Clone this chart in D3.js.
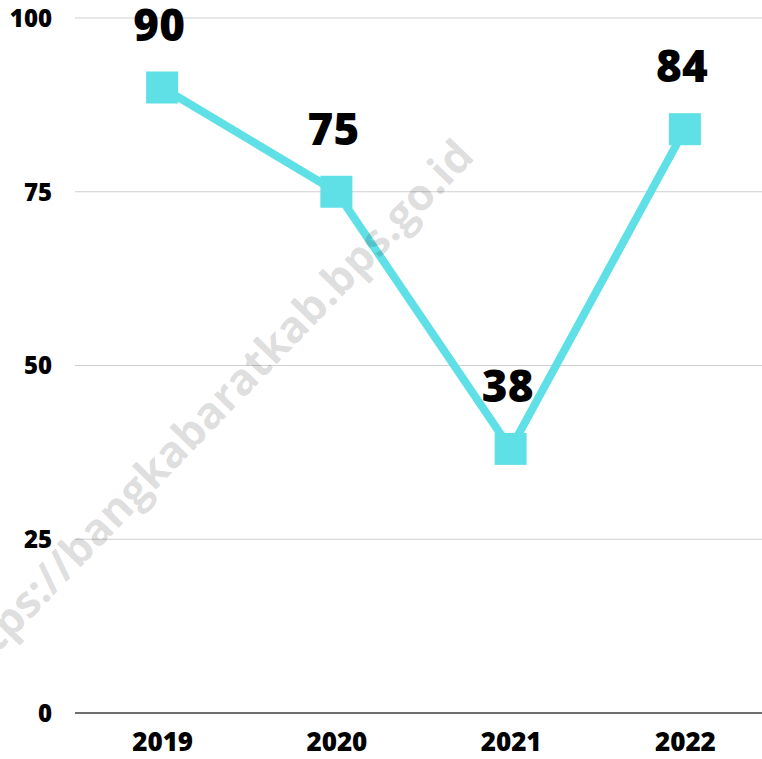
<!DOCTYPE html>
<html>
<head>
<meta charset="utf-8">
<script src="https://cdn.jsdelivr.net/npm/d3@7"></script>
<style>
  html, body { margin: 0; padding: 0; background: #fff; }
  svg { display: block; }
</style>
</head>
<body>
<svg id="chart" width="762" height="759"></svg>
<script>
const years = ["2019", "2020", "2021", "2022"];
const values = [90, 75, 38, 84];
const yTicks = [0, 25, 50, 75, 100];
const watermarkText = "https://bangkabaratkab.bps.go.id";

const W = 762, H = 759;
const svg = d3.select("#chart");
const font = "'Open Sans', 'Noto Sans', sans-serif";
const lineColor = "#5fe0e6";

const x = d3.scalePoint().domain(years).range([75, 772]).padding(0.5);
const y = d3.scaleLinear().domain([0, 100]).range([713, 18]);

// gridlines
const grid = svg.append("g");
grid.selectAll("line")
  .data(yTicks.filter(d => d !== 0))
  .join("line")
  .attr("x1", 75).attr("x2", W)
  .attr("y1", d => y(d)).attr("y2", d => y(d))
  .attr("stroke", "#cfcfcf").attr("stroke-width", 1.2);

// y axis labels
const yAxis = d3.axisLeft(y).tickValues(yTicks).tickSize(0).tickPadding(0).tickFormat(d3.format("d"));
const yg = svg.append("g").attr("transform", "translate(52,0)").call(yAxis);
yg.select(".domain").remove();
yg.selectAll("text")
  .attr("font-family", font).attr("font-weight", 800).attr("font-size", 24)
  .attr("fill", "#000").attr("dy", "0.35em");

// baseline
svg.append("line")
  .attr("x1", 75).attr("x2", W)
  .attr("y1", y(0)).attr("y2", y(0))
  .attr("stroke", "#6e6e6e").attr("stroke-width", 2.2);

// x axis labels
const xAxis = d3.axisBottom(x).tickSize(0).tickPadding(0);
const xg = svg.append("g").attr("transform", "translate(0,733)").call(xAxis);
xg.select(".domain").remove();
xg.selectAll("text")
  .attr("font-family", font).attr("font-weight", 800).attr("font-size", 26)
  .attr("fill", "#000").attr("dy", "0.7em");

// line
const line = d3.line().x((d, i) => x(years[i])).y(d => y(d));
svg.append("path")
  .datum(values)
  .attr("d", line)
  .attr("fill", "none")
  .attr("stroke", lineColor)
  .attr("stroke-width", 8)
  .attr("stroke-linejoin", "miter");

// markers
const S = 32;
svg.selectAll("rect.marker")
  .data(values)
  .join("rect")
  .attr("class", "marker")
  .attr("x", (d, i) => x(years[i]) - S / 2)
  .attr("y", d => y(d) - S / 2)
  .attr("width", S).attr("height", S)
  .attr("fill", lineColor);

// value labels
svg.selectAll("text.val")
  .data(values)
  .join("text")
  .attr("class", "val")
  .attr("x", (d, i) => x(years[i]) - 3)
  .attr("y", d => y(d) - 47)
  .attr("text-anchor", "middle")
  .attr("font-family", font).attr("font-weight", 800).attr("font-size", 44)
  .attr("fill", "#000")
  .text(d => d);

// watermark
svg.append("text")
  .attr("transform", "translate(476,158) rotate(-46)")
  .attr("text-anchor", "end")
  .attr("font-family", font).attr("font-weight", 700).attr("font-size", 44)
  .attr("fill", "rgba(0,0,0,0.14)")
  .text(watermarkText);
</script>
</body>
</html>
